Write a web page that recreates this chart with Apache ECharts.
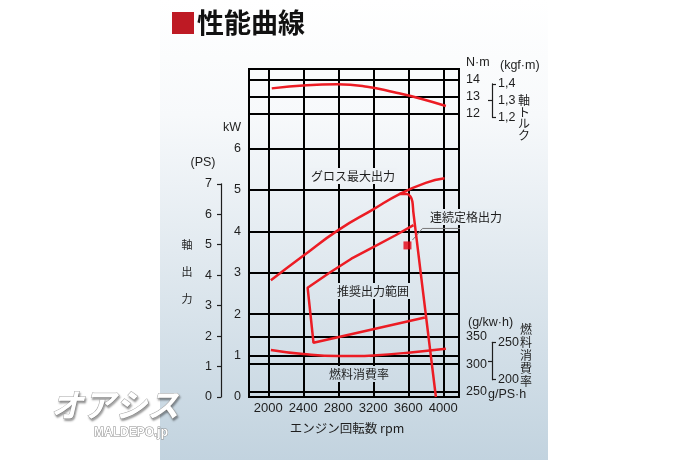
<!DOCTYPE html>
<html>
<head>
<meta charset="utf-8">
<title>性能曲線</title>
<script src="https://cdn.jsdelivr.net/npm/echarts@6.0.0/dist/echarts.min.js"></script>
<style>
html, body { margin: 0; padding: 0; background: #fff; }
#main { width: 700px; height: 460px; }
</style>
</head>
<body>
<div id="main"></div>
<script>
// tick values of every scale
var rpmTicks = [2000, 2400, 2800, 3200, 3600, 4000];
var kwTicks = [0, 1, 2, 3, 4, 5, 6];
var psTicks = [0, 1, 2, 3, 4, 5, 6, 7];
var nmTicks = [12, 13, 14];
var kgfTicks = [1.2, 1.3, 1.4];
var fuelTicks = [250, 300, 350];
var fuelPsTicks = [200, 250];

// 軸トルク  [rpm, N·m]
var torque = [[2040, 13.47], [2440, 13.66], [2790, 13.71], [3130, 13.57], [3440, 13.24], [3745, 12.86], [4030, 12.43]];
// グロス最大出力  [rpm, kW]
var grossPower = [[2030, 2.82], [2400, 3.41], [2800, 4.03], [3200, 4.53], [3500, 4.90], [3800, 5.17], [4015, 5.28]];
// governor line, branches off the gross curve
var governor = [[3500, 4.90], [3585, 4.90], [3625, 4.84], [3647, 4.72], [3659, 4.45], [3916, 0]];
// 推奨出力範囲 outline (upper edge = continuous output)
var rangeEdge = [[3660, 4.15], [3450, 3.90], [3200, 3.62], [2950, 3.34], [2700, 3.00], [2450, 2.64], [2517, 1.31], [3790, 1.92]];
// 燃料消費率  [rpm, g/kW·h]
var fuelRate = [[2030, 326], [2400, 318.5], [2800, 315], [3000, 315], [3200, 316], [3600, 321], [4030, 328]];
// 連続定格出力
var ratedPoint = [[3591, 3.66]];
var leader = [[3648, 3.79], [3763, 4.07], [4698, 4.07]];

// layout of the plot box
var plotLeft = 249, plotTop = 69, plotW = 210, plotH = 328;
var rpmMin = 1780, rpmMax = 4180;
var kwMax = 7.92;
var nmMin = -4.69, nmMax = 14.61;
var fuelMin = 240.4, fuelMax = 836.7;
var KW_PER_PS = 0.7355, NM_PER_KGF = 9.80665;

function yPos(v, min, max) {
    return plotTop + plotH * (max - v) / (max - min);
}
var psTop = yPos(7 * KW_PER_PS, 0, kwMax);
var kgfTop = yPos(1.4 * NM_PER_KGF, nmMin, nmMax);
var kgfBottom = yPos(1.2 * NM_PER_KGF, nmMin, nmMax);
var gpsTop = yPos(250 / KW_PER_PS, fuelMin, fuelMax);
var gpsBottom = yPos(200 / KW_PER_PS, fuelMin, fuelMax);

var red = '#ec1c24';
var ink = '#1e1e1e';
var jp = "'Noto Sans CJK JP', sans-serif";
var num = "'Liberation Sans', Arial, sans-serif";
var gridLine = { show: true, lineStyle: { color: '#000', width: 2 } };

// panel gradient: white on top, pale blue-grey at the bottom
var bgStops = [[0, [255, 255, 255]], [115, [247, 249, 251]], [460, [194, 211, 223]]];
function bgAt(y) {
    for (var i = 1; i < bgStops.length; i++) {
        if (y <= bgStops[i][0]) {
            var a = bgStops[i - 1], b = bgStops[i];
            var t = (y - a[0]) / (b[0] - a[0]);
            var c = a[1].map(function (v, j) { return Math.round(v + (b[1][j] - v) * t); });
            return 'rgb(' + c.join(',') + ')';
        }
    }
    return 'rgb(194,211,223)';
}

function curve(data, yIdx, smooth) {
    return {
        type: 'line', data: data, xAxisIndex: 0, yAxisIndex: yIdx,
        smooth: smooth, symbol: 'none', z: 5,
        lineStyle: { color: red, width: 2.5 }
    };
}
function txt(text, x, y, size, family, align, extra) {
    var style = { text: text, fontSize: size, fontFamily: family, fill: ink, align: align || 'left', verticalAlign: 'middle' };
    for (var k in extra) style[k] = extra[k];
    return { type: 'text', x: x, y: y, z: 10, silent: true, style: style };
}
// label inside the plot, masks the grid lines behind it
function plotTxt(text, x, y) {
    return txt(text, x, y, 12, jp, 'left', { backgroundColor: bgAt(y), padding: [2, 2] });
}
function comma(v) { return String(v).replace('.', ','); }
function plain(v) { return String(v); }

var chart = echarts.init(document.getElementById('main'), null, { renderer: 'canvas' });

var option = {
    animation: false,
    backgroundColor: '#fff',
    textStyle: { fontFamily: num },
    grid: [
        { left: plotLeft, top: plotTop, width: plotW, height: plotH, show: true, borderColor: '#000', borderWidth: 2, outerBoundsMode: 'none', containLabel: false },
        { left: 221, top: psTop, width: 10, height: plotTop + plotH - psTop, outerBoundsMode: 'none' },
        { left: 492, top: kgfTop, width: 10, height: kgfBottom - kgfTop, outerBoundsMode: 'none' },
        { left: 492, top: gpsTop, width: 10, height: gpsBottom - gpsTop, outerBoundsMode: 'none' }
    ],
    xAxis: [
        {
            gridIndex: 0, type: 'value', min: rpmMin, max: rpmMax,
            axisLine: { show: false },
            axisTick: { show: false, customValues: rpmTicks },
            axisLabel: { customValues: rpmTicks, margin: 5, fontSize: 13, color: ink, fontFamily: num, formatter: plain },
            splitLine: gridLine
        },
        { gridIndex: 1, type: 'value', show: false },
        { gridIndex: 2, type: 'value', show: false },
        { gridIndex: 3, type: 'value', show: false }
    ],
    yAxis: [
        // 0: kW
        {
            gridIndex: 0, type: 'value', position: 'left', min: 0, max: kwMax,
            axisLine: { show: false },
            axisTick: { show: false, customValues: kwTicks },
            axisLabel: { customValues: kwTicks, margin: 8, fontSize: 12.5, color: ink },
            splitLine: gridLine
        },
        // 1: N·m
        {
            gridIndex: 0, type: 'value', position: 'right', min: nmMin, max: nmMax,
            axisLine: { show: false },
            axisTick: { show: false, customValues: nmTicks },
            axisLabel: { customValues: nmTicks, margin: 7, fontSize: 12.5, color: ink },
            splitLine: gridLine
        },
        // 2: g/kW·h
        {
            gridIndex: 0, type: 'value', position: 'right', min: fuelMin, max: fuelMax,
            axisLine: { show: false },
            axisTick: { show: false, customValues: fuelTicks },
            axisLabel: { customValues: fuelTicks, margin: 7, fontSize: 12.5, color: ink },
            splitLine: gridLine
        },
        // 3: PS
        {
            gridIndex: 1, type: 'value', position: 'left', min: 0, max: 7,
            axisLine: { show: true, lineStyle: { color: ink, width: 1.2 } },
            axisTick: { show: true, length: 4, customValues: psTicks, lineStyle: { color: ink, width: 1.2 } },
            axisLabel: { customValues: psTicks, margin: 9, fontSize: 12.5, color: ink },
            splitLine: { show: false }
        },
        // 4: kgf·m bracket
        {
            gridIndex: 2, type: 'value', position: 'left', min: 1.2, max: 1.4,
            axisLine: { show: true, lineStyle: { color: ink, width: 1.2 } },
            axisTick: { show: true, inside: true, length: 4, customValues: [1.2, 1.4], lineStyle: { color: ink, width: 1.2 } },
            axisLabel: { inside: true, customValues: kgfTicks, margin: 6, fontSize: 12.5, color: ink, formatter: comma },
            splitLine: { show: false }
        },
        {
            gridIndex: 2, type: 'value', position: 'left', min: 1.2, max: 1.4,
            axisLine: { show: false },
            axisTick: { show: true, length: 4, customValues: [1.3], lineStyle: { color: ink, width: 1.2 } },
            axisLabel: { show: false },
            splitLine: { show: false }
        },
        // 6: g/PS·h bracket
        {
            gridIndex: 3, type: 'value', position: 'left', min: 200, max: 250,
            axisLine: { show: true, lineStyle: { color: ink, width: 1.2 } },
            axisTick: { show: true, inside: true, length: 4, customValues: fuelPsTicks, lineStyle: { color: ink, width: 1.2 } },
            axisLabel: { inside: true, customValues: fuelPsTicks, margin: 6, fontSize: 12.5, color: ink },
            splitLine: { show: false }
        },
        {
            gridIndex: 3, type: 'value', position: 'left', min: 200, max: 250,
            axisLine: { show: false },
            axisTick: { show: true, length: 4, customValues: [225], lineStyle: { color: ink, width: 1.2 } },
            axisLabel: { show: false },
            splitLine: { show: false }
        }
    ],
    series: [
        curve(torque, 1, true),
        curve(grossPower, 0, true),
        curve(governor, 0, 0.35),
        curve(rangeEdge, 0, false),
        curve(fuelRate, 2, true),
        {
            type: 'line', data: leader, xAxisIndex: 0, yAxisIndex: 0, clip: false,
            symbol: 'none', z: 4, lineStyle: { color: '#777', width: 1 }
        },
        {
            type: 'scatter', data: ratedPoint, xAxisIndex: 0, yAxisIndex: 0,
            symbol: 'rect', symbolSize: 8, z: 6, itemStyle: { color: '#e60012' }
        }
    ],
    graphic: [
        {
            type: 'rect', z: -100, silent: true,
            shape: { x: 160, y: 0, width: 388, height: 460 },
            style: {
                fill: new echarts.graphic.LinearGradient(0, 0, 0, 1, [
                    { offset: 0, color: '#ffffff' },
                    { offset: 0.25, color: '#f7f9fb' },
                    { offset: 1, color: '#c2d3df' }
                ])
            }
        },
        // watermark
        txt('オアシス', 115, 405, 32, jp, 'center', { fill: '#ffffff', stroke: '#a9a9a9', lineWidth: 1, fontStyle: 'italic', fontWeight: 'bold', textShadowColor: 'rgba(0,0,0,0.35)', textShadowBlur: 2, textShadowOffsetX: 1, textShadowOffsetY: 2 }),
        txt('MALDEPO.jp', 131, 433, 12, num, 'center', { fill: '#ffffff', stroke: '#8a8a8a', lineWidth: 1, fontWeight: 'bold' }),
        // title
        { type: 'rect', z: 10, silent: true, shape: { x: 172, y: 12, width: 22, height: 22 }, style: { fill: '#be1a24' } },
        txt('性能曲線', 197, 23, 27, jp, 'left', { fill: '#111', fontWeight: 'bold' }),
        // left axis names
        txt('kW', 232, 128, 12.5, num, 'center'),
        txt('(PS)', 203, 163, 12.5, num, 'center'),
        txt('軸\n出\n力', 187, 272, 11, jp, 'center', { lineHeight: 27 }),
        // right axis names
        txt('N·m', 466, 63, 12.5, num, 'left'),
        txt('(kgf·m)', 500, 66, 12.5, num, 'left'),
        txt('軸\nト\nル\nク', 524, 118, 12, jp, 'center', { lineHeight: 11.7 }),
        txt('(g/kw·h)', 468, 323, 12.5, num, 'left'),
        txt('燃\n料\n消\n費\n率', 526, 355, 12, jp, 'center', { lineHeight: 13 }),
        txt('g/PS·h', 488, 395, 12.5, num, 'left'),
        // labels inside the plot
        plotTxt('グロス最大出力', 309, 176),
        plotTxt('連続定格出力', 428, 217),
        plotTxt('推奨出力範囲', 335, 291),
        plotTxt('燃料消費率', 327, 374),
        // x axis name
        txt('エンジン回転数 rpm', 347, 428, 12.5, jp, 'center')
    ]
};

chart.setOption(option);
</script>
</body>
</html>
